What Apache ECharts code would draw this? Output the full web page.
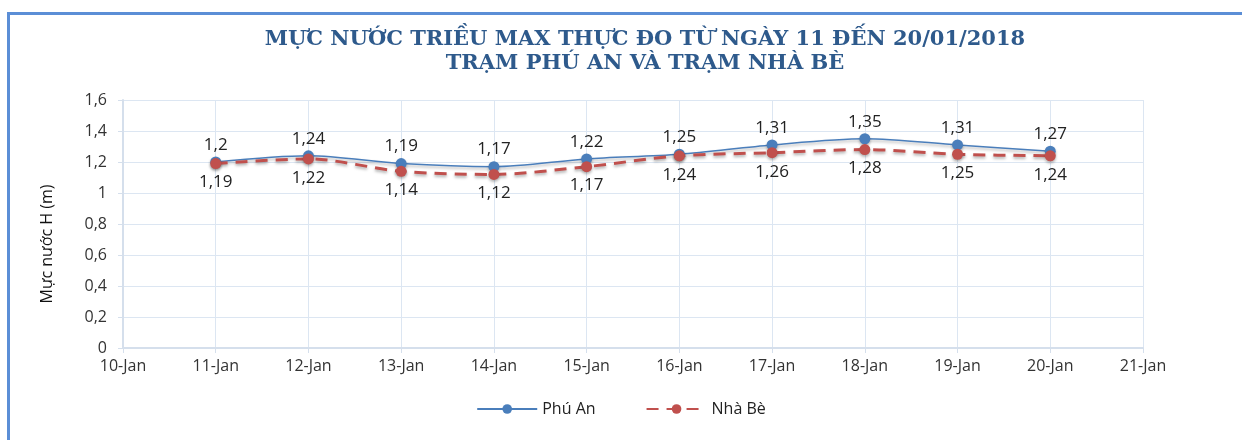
<!DOCTYPE html>
<html>
<head>
    <meta charset="UTF-8">
    <title>Muc nuoc trieu</title>
    <script src="https://cdn.jsdelivr.net/npm/echarts@6/dist/echarts.min.js"></script>
    <style>
        body { margin: 0; background: #fff; }
        #frame { position: absolute; left: 7px; top: 12px; width: 1235px; height: 428px;
                 border-top: 3px solid #5B8ED6; border-left: 3px solid #5B8ED6; box-sizing: border-box; }
        #chart { position: absolute; left: 0; top: 0; width: 1242px; height: 440px; }
    </style>
</head>
<body>
    <div id="frame"></div>
    <div id="chart"></div>
    <script>
        var days = ['10-Jan', '11-Jan', '12-Jan', '13-Jan', '14-Jan', '15-Jan', '16-Jan',
                    '17-Jan', '18-Jan', '19-Jan', '20-Jan', '21-Jan'];
        // 10-Jan and 21-Jan have no measurement
        var phuAn = [null, 1.2, 1.24, 1.19, 1.17, 1.22, 1.25, 1.31, 1.35, 1.31, 1.27, null];
        var nhaBe = [null, 1.19, 1.22, 1.14, 1.12, 1.17, 1.24, 1.26, 1.28, 1.25, 1.24, null];

        function comma(v) {
            return String(v).replace('.', ',');
        }

        var chart = echarts.init(document.getElementById('chart'), null, {renderer: 'canvas'});
        chart.setOption({
            animation: false,
            title: {
                text: 'MỰC NƯỚC TRIỀU MAX THỰC ĐO TỪ NGÀY 11 ĐẾN 20/01/2018\nTRẠM PHÚ AN VÀ TRẠM NHÀ BÈ',
                left: 640,
                textAlign: 'center',
                top: 23,
                textStyle: {
                    fontFamily: 'DejaVu Serif',
                    fontWeight: 'bold',
                    fontSize: 21,
                    lineHeight: 24,
                    color: '#2E5A8C'
                }
            },
            legend: {
                bottom: 18,
                left: 'center',
                itemWidth: 60,
                itemHeight: 12,
                itemGap: 50,
                textStyle: {fontFamily: 'Open Sans', fontSize: 16, color: '#222'},
                data: ['Phú An', 'Nhà Bè']
            },
            grid: {left: 123, right: 99, top: 100, bottom: 92},
            xAxis: {
                type: 'category',
                boundaryGap: false,
                data: days,
                axisLine: {lineStyle: {color: '#D5DFEC', width: 2}},
                axisTick: {show: true, length: 5, lineStyle: {color: '#D5DFEC'}},
                splitLine: {show: true, lineStyle: {color: '#DCE6F2'}},
                axisLabel: {fontFamily: 'Open Sans', fontSize: 16, color: '#333', margin: 10}
            },
            yAxis: {
                type: 'value',
                min: 0,
                max: 1.6,
                interval: 0.2,
                name: 'Mực nước H (m)',
                nameLocation: 'middle',
                nameGap: 68,
                nameTextStyle: {fontFamily: 'Open Sans', fontSize: 16, color: '#111', padding: [0, 40, 0, 0]},
                axisLine: {show: true, lineStyle: {color: '#D5DFEC', width: 2}},
                axisTick: {show: true, length: 5, lineStyle: {color: '#D5DFEC'}},
                splitLine: {lineStyle: {color: '#DCE6F2'}},
                axisLabel: {
                    fontFamily: 'Open Sans', fontSize: 16, color: '#333', margin: 16,
                    formatter: function (v) { return comma(Math.round(v * 10) / 10); }
                }
            },
            series: [
                {
                    name: 'Phú An',
                    type: 'line',
                    data: phuAn,
                    smooth: 0.3,
                    symbol: 'circle',
                    symbolSize: 11,
                    z: 3,
                    lineStyle: {color: '#4A7EBB', width: 1.5, shadowColor: 'rgba(0,0,0,0.3)', shadowBlur: 3, shadowOffsetY: 2},
                    itemStyle: {color: '#4A7EBB', shadowColor: 'rgba(0,0,0,0.3)', shadowBlur: 3, shadowOffsetY: 2},
                    label: {
                        show: true, position: 'top', distance: 3,
                        fontFamily: 'Open Sans', fontSize: 17, color: '#222',
                        formatter: function (p) { return comma(p.value); }
                    }
                },
                {
                    name: 'Nhà Bè',
                    type: 'line',
                    data: nhaBe,
                    smooth: 0.3,
                    symbol: 'circle',
                    symbolSize: 11,
                    z: 4,
                    lineStyle: {color: '#C0504D', width: 3, type: [12, 8], shadowColor: 'rgba(0,0,0,0.3)', shadowBlur: 3, shadowOffsetY: 2},
                    itemStyle: {color: '#C0504D', shadowColor: 'rgba(0,0,0,0.3)', shadowBlur: 3, shadowOffsetY: 2},
                    label: {
                        show: true, position: 'bottom', distance: 5,
                        fontFamily: 'Open Sans', fontSize: 17, color: '#222',
                        formatter: function (p) { return comma(p.value); }
                    }
                }
            ]
        });
    </script>
</body>
</html>
